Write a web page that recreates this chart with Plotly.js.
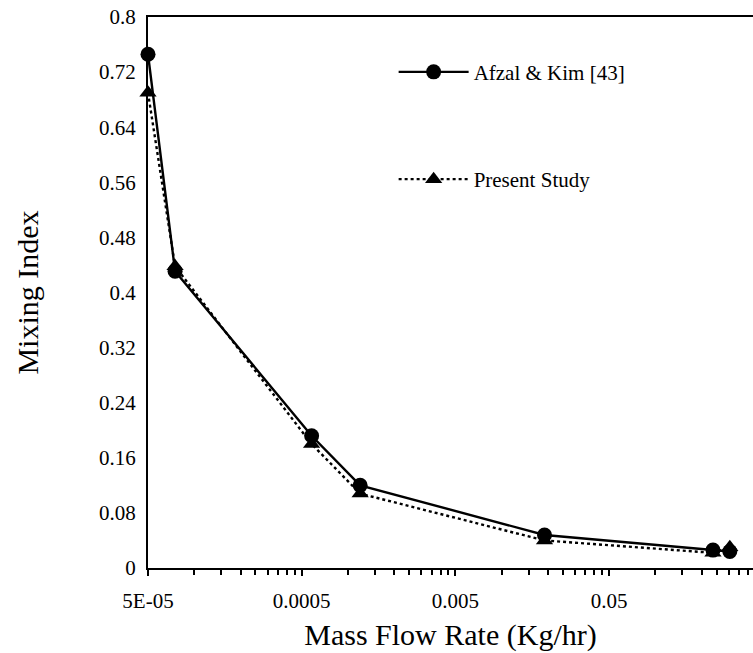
<!DOCTYPE html>
<html><head><meta charset="utf-8">
<script src="https://cdn.plot.ly/plotly-3.0.1.min.js"></script>
<style>
html,body{margin:0;padding:0;overflow:hidden;background:#fff}
#chart svg text{font-family:"Liberation Serif","Times New Roman",serif !important;}
</style>
</head><body><div id="chart" style="width:753px;height:653px"></div>
<script>
// Data
const massFlow = [5e-5, 7.5e-5, 5.8e-4, 1.2e-3, 0.019, 0.237, 0.305];
const afzalKim = [0.746, 0.431, 0.192, 0.120, 0.048, 0.026, 0.024];
const presentStudy = [0.690, 0.438, 0.180, 0.108, 0.040, 0.022, 0.030];
const xTickVals = [5e-5, 5e-4, 5e-3, 5e-2];
const xTickText = ['5E-05', '0.0005', '0.005', '0.05'];
const yTickVals = [0, 0.08, 0.16, 0.24, 0.32, 0.4, 0.48, 0.56, 0.64, 0.72, 0.8];
const yTickText = ['0', '0.08', '0.16', '0.24', '0.32', '0.4', '0.48', '0.56', '0.64', '0.72', '0.8'];
const seriesNames = ['Afzal & Kim [43]', 'Present Study'];

// Excel-style minor ticks: multiples of each major value
const minorVals = [];
xTickVals.forEach(d => { for (let k = 2; k <= 9; k++) minorVals.push(d * k); });

const FONT = 'Liberation Serif';

const traces = [
  {
    x: massFlow, y: afzalKim, name: seriesNames[0], legendgroup: 'a',
    type: 'scatter', mode: 'lines+markers', cliponaxis: false,
    line: {color: '#000', width: 2.4, dash: 'solid'},
    marker: {symbol: 'circle', size: 15, color: '#000'}
  },
  {
    x: massFlow, y: presentStudy, name: seriesNames[1], legendgroup: 'b',
    type: 'scatter', mode: 'lines+markers', cliponaxis: false,
    line: {color: '#000', width: 2.4, dash: 'dot'},
    marker: {symbol: 'triangle-up', size: 15, color: '#000'}
  }
];

const x0 = Math.log10(5e-5);
const layout = {
  width: 753, height: 653,
  margin: {l: 148, r: 0, t: 17, b: 85},
  paper_bgcolor: '#fff', plot_bgcolor: '#fff',
  font: {family: FONT, color: '#000', size: 21},
  showlegend: true,
  legend: {
    x: 0.406, y: 0.937, xanchor: 'left', yanchor: 'top',
    bgcolor: 'rgba(0,0,0,0)', borderwidth: 0,
    font: {family: FONT, size: 21, color: '#000'},
    tracegroupgap: 77, itemwidth: 70
  },
  xaxis: {
    type: 'log',
    range: [x0, x0 + 605 / 153.7],
    showline: true, linewidth: 2, linecolor: '#000', mirror: true,
    showgrid: false, zeroline: false,
    ticks: 'outside', ticklen: 6, tickwidth: 2, tickcolor: '#000',
    tickmode: 'array', tickvals: xTickVals, ticktext: xTickText,
    ticklabelstandoff: 7,
    tickfont: {family: FONT, size: 21, color: '#000'},
    minor: {tickmode: 'array', tickvals: minorVals, ticks: 'outside', ticklen: 5, tickwidth: 2, tickcolor: '#000', showgrid: false},
    title: {text: 'Mass Flow Rate (Kg/hr)', font: {family: FONT, size: 30, color: '#000'}, standoff: 12}
  },
  yaxis: {
    range: [0, 0.8],
    showline: true, linewidth: 2, linecolor: '#000',
    showgrid: false, zeroline: false,
    ticks: '', ticklabelstandoff: 6,
    tickmode: 'array', tickvals: yTickVals, ticktext: yTickText,
    tickfont: {family: FONT, size: 21, color: '#000'},
    title: {text: 'Mixing Index', font: {family: FONT, size: 30, color: '#000'}, standoff: 52}
  }
};

Plotly.newPlot('chart', traces, layout, {displayModeBar: false, staticPlot: true});
</script>
</body></html>
